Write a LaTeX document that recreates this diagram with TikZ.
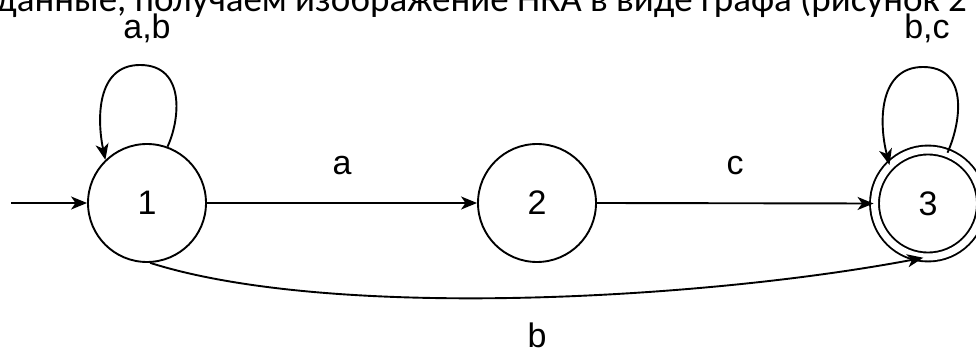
\documentclass[tikz,border=0pt]{standalone}
\usepackage{fontspec}
\setmainfont{Liberation Sans}
\newfontfamily\topfont{Carlito}
\usetikzlibrary{arrows.meta}
\begin{document}
\begin{tikzpicture}[x=1pt,y=-1pt,
  state/.style={circle,draw,line width=1.9pt,minimum size=118pt,inner sep=0pt,font=\fontsize{34}{40}\selectfont},
  accept/.style={circle,draw,line width=1.9pt,double,double distance=7pt,minimum size=107pt,inner sep=0pt,font=\fontsize{34}{40}\selectfont},
  edge/.style={line width=1.9pt,-{Stealth[length=16pt,width=13pt,inset=4.5pt]}},
  lbl/.style={font=\fontsize{34}{40}\selectfont,anchor=base,inner sep=0pt}]
\useasboundingbox (0,0) rectangle (976,352);
\clip (0,0) rectangle (976,352);
\fill[white] (0,0) rectangle (976,352);
\node[anchor=base west,inner sep=0pt,font=\topfont\fontsize{37}{42}\selectfont] (cap) at (-4,12) {данные, получаем изображение НКА в виде графа (рисунок 2};
\node[state] (n1) at (147,203) {1};
\node[state] (n2) at (537,203) {2};
\node[accept] (n3) at (928,203.5) {3};
\coordinate (start) at (11,203);
\draw[edge] (start) -- (n1.west);
\draw[edge] (n1.east) -- (n2.west);
\draw[edge] (n2.east) -- (n3.west);
\draw[edge] (n1.70) .. controls (180,120) and (186,65) .. (140,65) .. controls (96,65) and (97,120) .. (n1.134);
\draw[edge] (n3.69) .. controls (962,120) and (968,67) .. (923,67) .. controls (880,67) and (878,120) .. (n3.135);
\draw[edge] (n1.-87) .. controls (330,320) and (700,300) .. (n3.-95);
\node[lbl] (l1) at (147,39) {a,b};
\node[lbl] (l2) at (927,39) {b,c};
\node[lbl] (l3) at (342,175) {a};
\node[lbl] (l4) at (735,175) {c};
\node[lbl] (l5) at (537,347) {b};
\end{tikzpicture}
\end{document}
